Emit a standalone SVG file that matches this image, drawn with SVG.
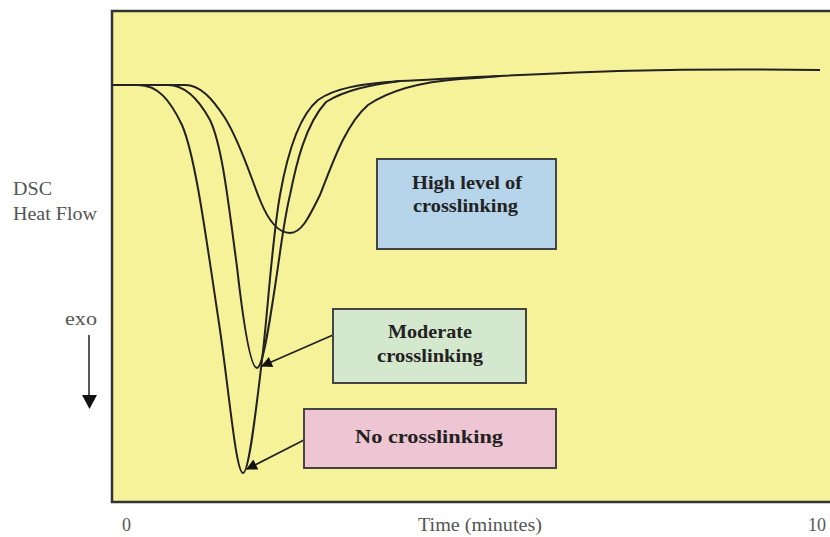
<svg xmlns="http://www.w3.org/2000/svg" width="830" height="537" viewBox="0 0 830 537">
<style>
.axis{font-family:"Liberation Serif","Times New Roman",serif;font-size:18px;fill:#555}
.lbl{font-family:"Liberation Serif","Times New Roman",serif;font-size:19px;font-weight:bold;fill:#222;text-anchor:start}
.box{stroke:#444;stroke-width:2}
.curve{fill:none;stroke:#222;stroke-width:2}
.conn{fill:none;stroke:#222;stroke-width:1.8}
</style>
<defs>
<marker id="ah" viewBox="0 0 10 10" refX="9" refY="5" markerWidth="14" markerHeight="11" markerUnits="userSpaceOnUse" orient="auto">
<path d="M0,0 L10,5 L0,10 z" fill="#111"/>
</marker>
</defs>
<rect width="830" height="537" fill="#fff"/>
<g id="plot">
<rect x="112" y="11" width="730" height="491" fill="#f6f299" stroke="#333" stroke-width="2.5"/>
<path class="curve" d="M112,85 H138 C158,85 170,100 182,125 C195,155 205,230 220,330 C230,400 236,472 243,473 C249,473 256,410 262,360 C268,310 272,240 280,195 C288,150 300,115 318,100 C335,88 360,84 400,81 C440,79 470,77 500,76 C580,72 660,68 820,70"/>
<path class="curve" d="M112,85 H168 C185,85 198,98 210,120 C222,145 228,200 237,267 C243,320 250,368 257,368 C263,368 270,320 276,280 C282,240 284,220 290,195 C296,165 305,125 326,102 C345,90 370,85 400,81"/>
<path class="curve" d="M112,85 H185 C200,85 212,98 225,118 C240,142 250,175 260,200 C268,220 278,233 290,233 C302,233 310,215 320,195 C332,165 345,125 368,105 C390,90 420,82 460,79 C480,78 490,77 500,76"/>
</g>
<g id="axis-labels">
<text class="axis" x="13" y="195" textLength="39" lengthAdjust="spacingAndGlyphs">DSC</text>
<text class="axis" x="13" y="220" textLength="84" lengthAdjust="spacingAndGlyphs">Heat Flow</text>
<text class="axis" x="65" y="325" textLength="32" lengthAdjust="spacingAndGlyphs">exo</text>
<line x1="89" y1="335" x2="89" y2="396" stroke="#222" stroke-width="1.5"/>
<path d="M82,395 L97,395 L89.5,409 z" fill="#111"/>
<text class="axis" x="122" y="531" textLength="9" lengthAdjust="spacingAndGlyphs">0</text>
<text class="axis" x="418" y="531" textLength="124" lengthAdjust="spacingAndGlyphs">Time (minutes)</text>
<text class="axis" x="808" y="531" textLength="18" lengthAdjust="spacingAndGlyphs">10</text>
</g>
<g id="connectors">
<line class="conn" x1="333" y1="335" x2="262" y2="366" marker-end="url(#ah)"/>
<line class="conn" x1="304" y1="440" x2="247" y2="469" marker-end="url(#ah)"/>
</g>
<g id="high">
<rect class="box" x="377" y="159" width="179" height="90" fill="#b6d4ea"/>
<text class="lbl" x="412" y="189" textLength="110" lengthAdjust="spacingAndGlyphs">High level of</text>
<text class="lbl" x="413" y="212" textLength="105" lengthAdjust="spacingAndGlyphs">crosslinking</text>
</g>
<g id="moderate">
<rect class="box" x="333" y="309" width="193" height="74" fill="#d4e8cd"/>
<text class="lbl" x="388" y="338" textLength="84" lengthAdjust="spacingAndGlyphs">Moderate</text>
<text class="lbl" x="377" y="362" textLength="106" lengthAdjust="spacingAndGlyphs">crosslinking</text>
</g>
<g id="none">
<rect class="box" x="304" y="409" width="252" height="59" fill="#eec6d3"/>
<text class="lbl" x="355" y="443" textLength="148" lengthAdjust="spacingAndGlyphs">No crosslinking</text>
</g>
</svg>
